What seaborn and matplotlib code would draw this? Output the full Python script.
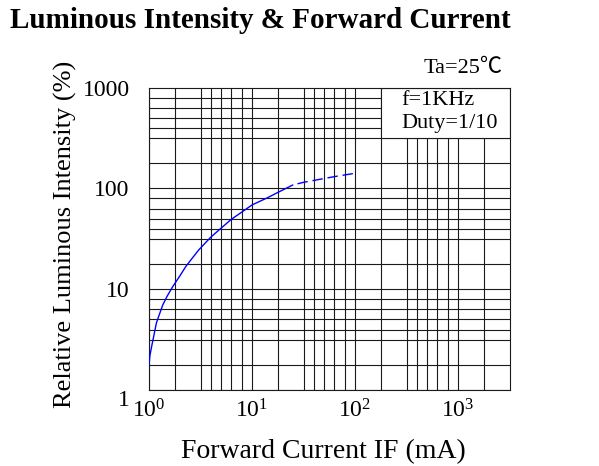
import numpy as np
import pandas as pd
import matplotlib
matplotlib.use("Agg")
import matplotlib.pyplot as plt
from matplotlib.patches import Rectangle
from matplotlib.transforms import ScaledTranslation
import seaborn as sns

# ---- data ----
current_solid = [1.0, 1.02, 1.06, 1.1, 1.18, 1.25, 1.36, 1.5, 1.70, 2.0, 2.27, 2.6,
                 3.04, 3.97, 5.0, 6.3, 8.0, 10.0, 14.0, 18.0, 24.9]
intensity_solid = [1.77, 2.19, 2.69, 3.24, 4.62, 5.48, 6.97, 8.52, 10.6, 13.6, 16.7, 20.0,
                   24.5, 32.7, 40.2, 49.3, 58.3, 68.4, 80.3, 91.5, 108.0]
current_dashed = [24.9, 32.0, 64.0, 100.0]
intensity_dashed = [108.0, 115.0, 131.0, 141.0]

x_ticks = [1, 10, 100, 1000]
x_tick_labels = [r"$10^{0}$", r"$10^{1}$", r"$10^{2}$", r"$10^{3}$"]
y_ticks = [1, 10, 100, 1000]
y_tick_labels = ["1", "10", "100", "1000"]

title = "Luminous Intensity & Forward Current"
x_label = "Forward Current IF (mA)"
y_label = "Relative Luminous Intensity (%)"
note_temp = "Ta=25\u2103"
note_lines = ["f=1KHz", "Duty=1/10"]

# ---- style ----
sns.set_style("white")
plt.rcParams["font.family"] = ["Liberation Serif", "Noto Sans CJK SC", "DejaVu Sans"]
plt.rcParams["mathtext.fontset"] = "custom"
plt.rcParams["mathtext.rm"] = "Liberation Serif"
plt.rcParams["mathtext.it"] = "Liberation Serif:italic"
plt.rcParams["mathtext.bf"] = "Liberation Serif:bold"
for k in ["text.color", "axes.labelcolor", "xtick.color", "ytick.color"]:
    plt.rcParams[k] = "black"

fig = plt.figure(figsize=(5.99, 4.66), dpi=100)
ax = fig.add_axes([149 / 599, 1 - 390 / 466, (509.5 - 149) / 599, (390 - 87.5) / 466])

solid = pd.DataFrame({"IF": current_solid, "IV": intensity_solid})
dashed = pd.DataFrame({"IF": current_dashed, "IV": intensity_dashed})
sns.lineplot(data=solid, x="IF", y="IV", ax=ax, color="#0000ff", lw=1.0,
             sort=False, estimator=None, zorder=4)
sns.lineplot(data=dashed, x="IF", y="IV", ax=ax, color="#0000ff", lw=1.0,
             sort=False, estimator=None, zorder=4, linestyle=(7.5, (7.5, 3.5)))

ax.set_xscale("log")
ax.set_yscale("log")
ax.set_xlim(1, 10 ** 3.5)
ax.set_ylim(1, 1000)

# grid (decade pattern used by the original chart)
grid_color = "#1a1a1a"
fracs = [0, 0.25, 0.5, 0.6, 0.7, 0.8, 0.9]
for d in range(3):
    for f in fracs:
        ax.axvline(10 ** (d + f), color=grid_color, lw=0.8, zorder=1)
        ax.axhline(10 ** (d + f), color=grid_color, lw=0.8, zorder=1)
ax.axvline(10 ** 3, color=grid_color, lw=0.8, zorder=1)
ax.axvline(10 ** 3.25, color=grid_color, lw=0.8, zorder=1)

# condition box
ax.add_patch(Rectangle((10 ** 2.25, 10 ** 2.5), 10 ** 3.5 - 10 ** 2.25, 1000 - 10 ** 2.5,
                       facecolor="white", edgecolor=grid_color, lw=0.8, zorder=2))
ax.text(0.701, 0.942, note_lines[0], transform=ax.transAxes, fontsize=16,
        va="baseline", ha="left", zorder=5)
ax.text(0.701, 0.866, note_lines[1], transform=ax.transAxes, fontsize=16,
        va="baseline", ha="left", zorder=5)
ax.text(0.982, 1.048, note_temp, transform=ax.transAxes, fontsize=16,
        va="baseline", ha="right")

for s in ax.spines.values():
    s.set_color(grid_color)
    s.set_linewidth(0.8)
    s.set_zorder(3)

ax.minorticks_off()
ax.set_xticks(x_ticks, x_tick_labels)
ax.set_yticks(y_ticks, y_tick_labels)
ax.tick_params(axis="x", length=0, pad=7, labelsize=17)
ax.tick_params(axis="y", length=0, pad=14, labelsize=17)

# the bottom "1" label sits a little lower in the original
lab = ax.get_yticklabels()[0]
lab.set_transform(lab.get_transform() + ScaledTranslation(0, -8 / 100, fig.dpi_scale_trans))

ax.set_xlabel(x_label, fontsize=20)
ax.set_ylabel(y_label, fontsize=19)
ax.xaxis.set_label_coords(0.483, -0.162)
ax.yaxis.set_label_coords(-0.2, 0.514)

fig.text(260 / 599, 1 - 28 / 466, title, fontsize=21, fontweight="bold",
         ha="center", va="baseline")

fig.savefig("out.png", dpi=100)
